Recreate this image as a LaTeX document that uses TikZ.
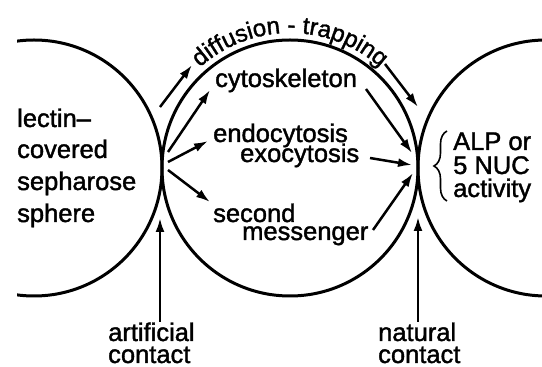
\documentclass[tikz,border=0pt]{standalone}
\usepackage{fontspec}
\setmainfont{Liberation Sans}[RawFeature={embolden=1.5}]
\usetikzlibrary{arrows.meta,decorations.text,decorations.pathreplacing}
\newcommand\lfont{\fontsize{25.5}{30}\selectfont}
\newcommand\afont{\fontsize{24}{30}\selectfont}
\begin{document}
\begin{tikzpicture}[x=1pt,y=1pt,
  ring/.style={line width=3pt},
  arr/.style={line width=2.5pt,-{Latex[length=14pt,width=9pt]}},
  lbl/.style={anchor=base west,inner sep=0pt,font=\lfont},
]
\useasboundingbox (0,0) rectangle (542,367);
% spheres
\begin{scope}
  \clip (17,0) rectangle (542,367);
  \draw[ring] (34,199) circle[radius=128];
  \draw[ring] (546,199) circle[radius=128];
\end{scope}
\draw[ring] (290,199) circle[radius=128];
% curved label
\path[decorate,decoration={text along path,text align=center,
  text={|\afont|diffusion - trapping}}]
  (290,199) ++(137:135) arc[start angle=137,end angle=43,radius=135];
% labels
\node[lbl] (l1) at (17,240) {lectin–};
\node[lbl] (l2) at (17,209) {covered};
\node[lbl] (l3) at (17,177) {sepharose};
\node[lbl] (l4) at (17,145) {sphere};
\node[lbl] (cyto) at (215,280) {cytoskeleton};
\node[lbl] (endo) at (213,225) {endocytosis};
\node[lbl] (exo) at (240,205) {exocytosis};
\node[lbl] (sec) at (213,145) {second};
\node[lbl] (mess) at (242,127) {messenger};
\node[lbl] (alp) at (453,217) {ALP or};
\node[lbl] (nuc) at (453,193) {5 NUC};
\node[lbl] (act) at (453,170) {activity};
\node[lbl] (art) at (108,26) {artificial};
\node[lbl] (acon) at (108,4) {contact};
\node[lbl] (nat) at (378,26) {natural};
\node[lbl] (ncon) at (378,4) {contact};
% brace
\coordinate (bb) at (447,166);
\coordinate (bt) at (447,236);
\draw[line width=1.6pt,decorate,decoration={brace,amplitude=13pt}] (bb) -- (bt);
% connector end points
\coordinate (ol1) at (160,260); \coordinate (ol2) at (192,302);
\coordinate (or1) at (385,303); \coordinate (or2) at (418,260);
\coordinate (a1) at (168,215); \coordinate (a1e) at (210,277);
\coordinate (a2) at (168,205); \coordinate (a2e) at (208,226);
\coordinate (a3) at (168,197); \coordinate (a3e) at (210,165);
\coordinate (b1) at (366,278); \coordinate (b1e) at (412,214);
\coordinate (b2) at (370,209); \coordinate (b2e) at (412,202);
\coordinate (b3) at (373,137); \coordinate (b3e) at (413,194);
\coordinate (u1) at (160,45); \coordinate (u1e) at (160,149);
\coordinate (u2) at (418,45); \coordinate (u2e) at (418,150);
\draw[arr] (ol1) -- (ol2);
\draw[arr] (or1) -- (or2);
\draw[arr] (a1) -- (a1e);
\draw[arr] (a2) -- (a2e);
\draw[arr] (a3) -- (a3e);
\draw[arr] (b1) -- (b1e);
\draw[arr] (b2) -- (b2e);
\draw[arr] (b3) -- (b3e);
\draw[arr] (u1) -- (u1e);
\draw[arr] (u2) -- (u2e);
\end{tikzpicture}
\end{document}
